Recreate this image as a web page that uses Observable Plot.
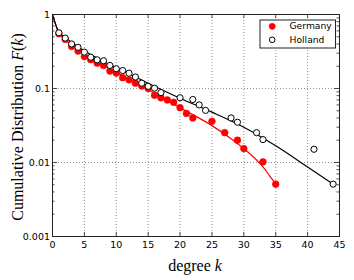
<!DOCTYPE html>
<html><head><meta charset="utf-8">
<script src="https://cdn.jsdelivr.net/npm/d3@7"></script>
<script src="https://cdn.jsdelivr.net/npm/@observablehq/plot@0.6"></script>
<style>html,body{margin:0;padding:0;background:#fff} svg{display:block}</style>
</head><body><div id="chart"></div>
<script>
// Observed data
const germanyK = [1,2,3,4,5,6,7,8,9,10,11,12,13,14,15,16,17,18,19,20,21,22,25,27,29,30,33,35];
const germanyF = [0.55,0.46,0.37,0.32,0.27,0.245,0.22,0.205,0.172,0.162,0.14,0.131,0.118,0.108,0.1,0.081,0.075,0.07,0.065,0.055,0.046,0.040,0.036,0.0253,0.020,0.0154,0.0102,0.0051];
const hollandK = [1,2,3,4,5,6,7,8,9,10,11,12,13,14,15,16,17,20,22,23,24,28,29,32,33,41,44];
const hollandF = [0.566,0.48,0.40,0.36,0.31,0.265,0.244,0.237,0.205,0.185,0.175,0.161,0.143,0.118,0.107,0.101,0.088,0.075,0.071,0.060,0.0506,0.040,0.035,0.0253,0.0204,0.0151,0.0051];
// Fitted curves
const germanyFitK = [0,1,2,3,4,5,6,8,10,12,15,20,25,28,30,32,33,34,35];
const germanyFitF = [1,0.56,0.46,0.385,0.33,0.29,0.257,0.205,0.165,0.135,0.097,0.055,0.0315,0.021,0.0154,0.0108,0.0087,0.0067,0.0051];
const hollandFitK = [0,1,2,3,4,5,6,8,10,12,15,20,25,30,35,40,44];
const hollandFitF = [1,0.575,0.49,0.42,0.367,0.323,0.288,0.232,0.19,0.158,0.118,0.074,0.048,0.030,0.0168,0.0087,0.0051];
// Ticks
const xTicks = [0,5,10,15,20,25,30,35,40,45];
const yTicks = [1,0.1,0.01,0.001];
const yTickLabels = ["1","0.1","0.01","0.001"];
const yMinor = [0.001,0.01,0.1].flatMap(d => [2,3,4,5,6,7,8,9].map(m => +(d*m).toPrecision(3)));
const seriesNames = ["Germany","Holland"];

const W = 354, H = 280, mL = 52, mR = 15, mT = 14, mB = 44;
const pw = W - mL - mR, ph = H - mT - mB;

const zip = (K, F) => K.map((k, i) => ({k, f: F[i]}));
const germany = zip(germanyK, germanyF);
const holland = zip(hollandK, hollandF);
const germanyFit = zip(germanyFitK, germanyFitF);
const hollandFit = zip(hollandFitK, hollandFitF);

const gridStyle = {stroke: "#777", strokeOpacity: 1, strokeDasharray: "1,2", strokeWidth: 0.8};
const tickStroke = {stroke: "#222", strokeWidth: 0.8};

// legend box geometry (pixels relative to plot frame)
const lgLeft = 207.5, lgTop = 5.5, lgRight = 4, lgBottom = ph - 33.5;

const chart = Plot.plot({
  width: W, height: H,
  marginLeft: mL, marginRight: mR, marginTop: mT, marginBottom: mB,
  style: {fontFamily: "DejaVu Sans", fontSize: "9.5px", background: "white", color: "black", overflow: "visible"},
  x: {domain: [0, 45]},
  y: {type: "log", domain: [0.001, 1]},
  marks: [
    Plot.gridX(xTicks.slice(1, -1), gridStyle),
    Plot.gridY([0.1, 0.01], gridStyle),
    Plot.line(germanyFit, {x: "k", y: "f", stroke: "#ff0000", strokeWidth: 1.2, curve: "monotone-x"}),
    Plot.line(hollandFit, {x: "k", y: "f", stroke: "#000", strokeWidth: 1.2, curve: "monotone-x"}),
    Plot.dot(germany, {x: "k", y: "f", r: 3.4, fill: "#ff0000", stroke: "#ff0000", strokeWidth: 0.5}),
    Plot.dot(holland, {x: "k", y: "f", r: 3.1, fill: "white", stroke: "#000", strokeWidth: 1}),
    // inward ticks
    Plot.ruleX(xTicks, {insetTop: ph - 4, ...tickStroke}),
    Plot.ruleX(xTicks, {insetBottom: ph - 4, ...tickStroke}),
    Plot.ruleY(yTicks, {insetRight: pw - 5, ...tickStroke}),
    Plot.ruleY(yTicks, {insetLeft: pw - 5, ...tickStroke}),
    Plot.ruleY(yMinor, {insetRight: pw - 2.5, ...tickStroke}),
    Plot.ruleY(yMinor, {insetLeft: pw - 2.5, ...tickStroke}),
    Plot.axisX(xTicks, {tickSize: 0, tickPadding: 5, label: null, tickFormat: d => String(d)}),
    Plot.axisY(yTicks, {tickSize: 0, tickPadding: 2.5, label: null, tickFormat: d => yTickLabels[yTicks.indexOf(d)]}),
    Plot.frame({stroke: "#222", strokeWidth: 1}),
    // legend
    Plot.frame({insetLeft: lgLeft, insetTop: lgTop, insetRight: lgRight, insetBottom: lgBottom, fill: "white", stroke: "#222", strokeWidth: 1}),
    Plot.dot([seriesNames[0]], {frameAnchor: "top-left", dx: 219.7, dy: 11.8, r: 3.1, fill: "#ff0000", stroke: "#ff0000", strokeWidth: 0.5}),
    Plot.dot([seriesNames[1]], {frameAnchor: "top-left", dx: 219.7, dy: 25.3, r: 2.8, fill: "white", stroke: "#000", strokeWidth: 1}),
    Plot.text([seriesNames[0]], {text: d => d, frameAnchor: "top-left", dx: 237, dy: 11.96, textAnchor: "start", lineAnchor: "middle", fontSize: 9.2, fill: "#000000"}),
    Plot.text([seriesNames[1]], {text: d => d, frameAnchor: "top-left", dx: 237, dy: 25.66, textAnchor: "start", lineAnchor: "middle", fontSize: 9.2, fill: "#000000"})
  ]
});
document.getElementById("chart").append(chart);

const svg = d3.select(chart);
// Y title
const yt = svg.append("text")
  .attr("transform", `translate(22.5,127) rotate(-90)`)
  .attr("text-anchor", "middle")
  .attr("font-family", "Liberation Serif, DejaVu Serif, serif")
  .attr("font-size", 16).attr("fill", "black");
yt.append("tspan").text("Cumulative Distribution ");
yt.append("tspan").attr("font-style", "italic").text("F");
yt.append("tspan").text("(");
yt.append("tspan").attr("font-style", "italic").text("k");
yt.append("tspan").text(")");
// X title
const xt = svg.append("text")
  .attr("x", 195).attr("y", 270.5)
  .attr("text-anchor", "middle")
  .attr("font-family", "Liberation Serif, DejaVu Serif, serif")
  .attr("font-size", 16).attr("fill", "black");
xt.append("tspan").text("degree ");
xt.append("tspan").attr("font-style", "italic").text("k");
</script>
</body></html>
